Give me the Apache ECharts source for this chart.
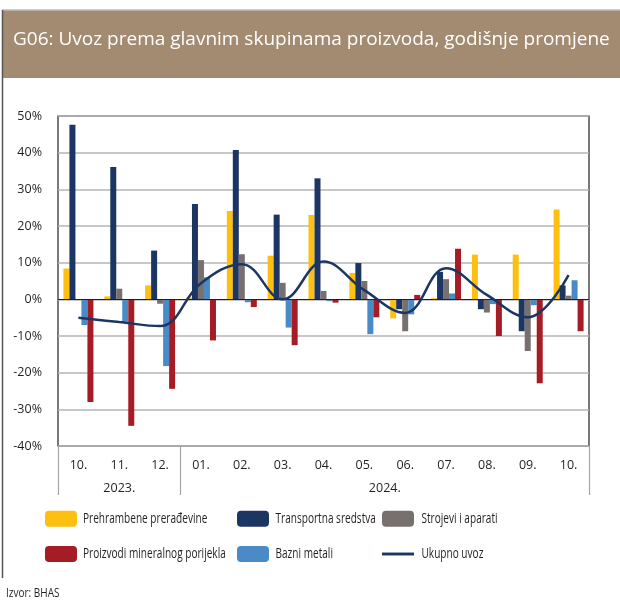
<!DOCTYPE html>
<html>
<head>
<meta charset="utf-8">
<script src="https://cdn.jsdelivr.net/npm/echarts@6.0.0/dist/echarts.min.js"></script>
<style>
  html, body { margin: 0; padding: 0; background: #fff; }
  #chart { width: 620px; height: 606px; }
</style>
</head>
<body>
<div id="chart"></div>
<script>
// months (Oct 2023 - Oct 2024)
var months = ['10.', '11.', '12.', '01.', '02.', '03.', '04.', '05.', '06.', '07.', '08.', '09.', '10.'];
var yearLabels = ['2023.', '2024.'];
var yearLabelPos = [1.5, 8];      // centre of each year block, in category units
var yearDividers = [0, 3, 13];    // boundaries between year blocks

var prehrambene = [8.4, 0.8, 3.8, 0.5, 24.1, 11.9, 23.0, 7.2, -5.2, 0.3, 12.2, 12.2, 24.5];
var transportna = [47.6, 36.1, 13.3, 26.0, 40.7, 23.1, 33.0, 9.9, -2.7, 7.5, -2.7, -8.7, 3.8];
var strojevi = [0, 2.9, -1.2, 10.7, 12.3, 4.5, 2.3, 5.0, -8.7, 5.5, -3.6, -14.1, 1.0];
var bazni = [-7.0, -6.1, -18.2, 6.0, -0.8, -7.7, -0.5, -9.5, -4.1, 1.6, -1.3, -1.6, 5.2];
var mineralni = [-28.0, -34.5, -24.4, -11.2, -2.1, -12.5, -0.9, -4.9, 1.2, 13.8, -10.0, -22.9, -8.7];
var ukupno = [-5.0, -6.2, -7.3, 4.4, 9.6, 0.0, 10.3, 2.5, -3.7, 8.5, 1.2, -4.9, 6.6];

// legend columns, top row then bottom row
var legendCols = [
    ['Prehrambene prerađevine', 'Proizvodi mineralnog porijekla'],
    ['Transportna sredstva', 'Bazni metali'],
    ['Strojevi i aparati', 'Ukupno uvoz']
];

var font = 'Open Sans';
var txt = '#231f20';

var chart = echarts.init(document.getElementById('chart'));

function bar(name, data, color) {
    return {
        name: name,
        type: 'bar',
        data: data,
        barWidth: 6,
        barGap: '0%',
        itemStyle: { color: color },
        silent: true
    };
}

var colLeft = [45, 237, 382];
var textLeft = [83, 275.5, 421.5];
var rowMid = [518.7, 554];

// reference font is narrower than Open Sans, so squeeze it horizontally
function squeezedText(str, x, y, size, squeeze) {
    return {
        type: 'text', x: x, y: y, scaleX: squeeze, silent: true,
        style: { text: str, fill: txt, font: size + 'px "Open Sans"', verticalAlign: 'middle' }
    };
}

var graphics = [
    { type: 'rect', shape: { x: 2, y: 10, width: 618, height: 68 }, style: { fill: '#a38b71' } },
    { type: 'line', shape: { x1: 2, y1: 10, x2: 620, y2: 10 }, style: { stroke: '#bdbdbd', lineWidth: 1.5 } },
    { type: 'line', shape: { x1: 2.5, y1: 10, x2: 2.5, y2: 578 }, style: { stroke: '#555', lineWidth: 1.5 } },
    { type: 'text', left: 13, top: 30, style: { text: 'G06: Uvoz prema glavnim skupinama proizvoda, godišnje promjene', fill: '#fff', font: '19px "Open Sans"' } },
    squeezedText('Izvor: BHAS', 6, 593, 13, 0.77)
];
legendCols.forEach(function (col, c) {
    col.forEach(function (name, r) {
        graphics.push(squeezedText(name, textLeft[c], rowMid[r], 14, 0.72));
    });
});

var legends = legendCols.map(function (col, c) {
    return {
        data: col.map(function (n) {
            return n === 'Ukupno uvoz' ? { name: n, icon: 'path://M0,0h33v3h-33z' } : n;
        }),
        left: colLeft[c], top: 510.7, padding: 0,
        orient: 'vertical', itemWidth: 32, itemHeight: 16, itemGap: 19.3,
        formatter: function () { return ''; },
        textStyle: { fontSize: 1 }
    };
});

var option = {
    animation: false,
    textStyle: { fontFamily: font },
    graphic: graphics,
    grid: {
        left: 58, right: 31, top: 116, bottom: 160,
        show: true, borderColor: '#231f20', borderWidth: 1.2, backgroundColor: 'transparent'
    },
    legend: legends,
    xAxis: [
        {
            type: 'category',
            data: months,
            boundaryGap: true,
            axisLine: { show: false },
            axisTick: { show: false },
            axisLabel: { color: txt, fontSize: 12.5, margin: 13, fontFamily: font }
        },
        {
            type: 'value',
            min: 0, max: 13, interval: 0.5,
            position: 'bottom',
            axisLine: { show: false },
            splitLine: { show: false },
            axisTick: { show: true, length: 49, customValues: yearDividers, lineStyle: { color: '#a6a6a6', width: 1.2 } },
            axisLabel: {
                customValues: yearLabelPos,
                margin: 36, color: txt, fontSize: 12.5, fontFamily: font,
                formatter: function (v) { return yearLabels[yearLabelPos.indexOf(v)] || ''; }
            }
        }
    ],
    yAxis: {
        type: 'value',
        min: -40, max: 50, interval: 10,
        axisLine: { show: false },
        axisTick: { show: false },
        axisLabel: { color: txt, fontSize: 12.5, margin: 16, fontFamily: font, formatter: '{value}%' },
        splitLine: { lineStyle: { color: '#b4b4b4', width: 1.5 } }
    },
    series: [
        bar('Prehrambene prerađevine', prehrambene, '#fdc010'),
        bar('Transportna sredstva', transportna, '#1c3664'),
        bar('Strojevi i aparati', strojevi, '#77706e'),
        bar('Bazni metali', bazni, '#4a8ac6'),
        {
            name: 'Proizvodi mineralnog porijekla',
            type: 'bar',
            data: mineralni,
            barWidth: 6,
            barGap: '0%',
            itemStyle: { color: '#a51c24' },
            markLine: {
                silent: true,
                symbol: 'none',
                label: { show: false },
                lineStyle: { color: '#231f20', width: 1.2, type: 'solid' },
                data: [{ yAxis: 0 }]
            }
        },
        {
            name: 'Ukupno uvoz',
            type: 'line',
            data: ukupno,
            smooth: 0.4,
            symbol: 'none',
            z: 5,
            lineStyle: { color: '#1c3664', width: 2.5 },
            itemStyle: { color: '#1c3664' }
        }
    ]
};

chart.setOption(option);
</script>
</body>
</html>
